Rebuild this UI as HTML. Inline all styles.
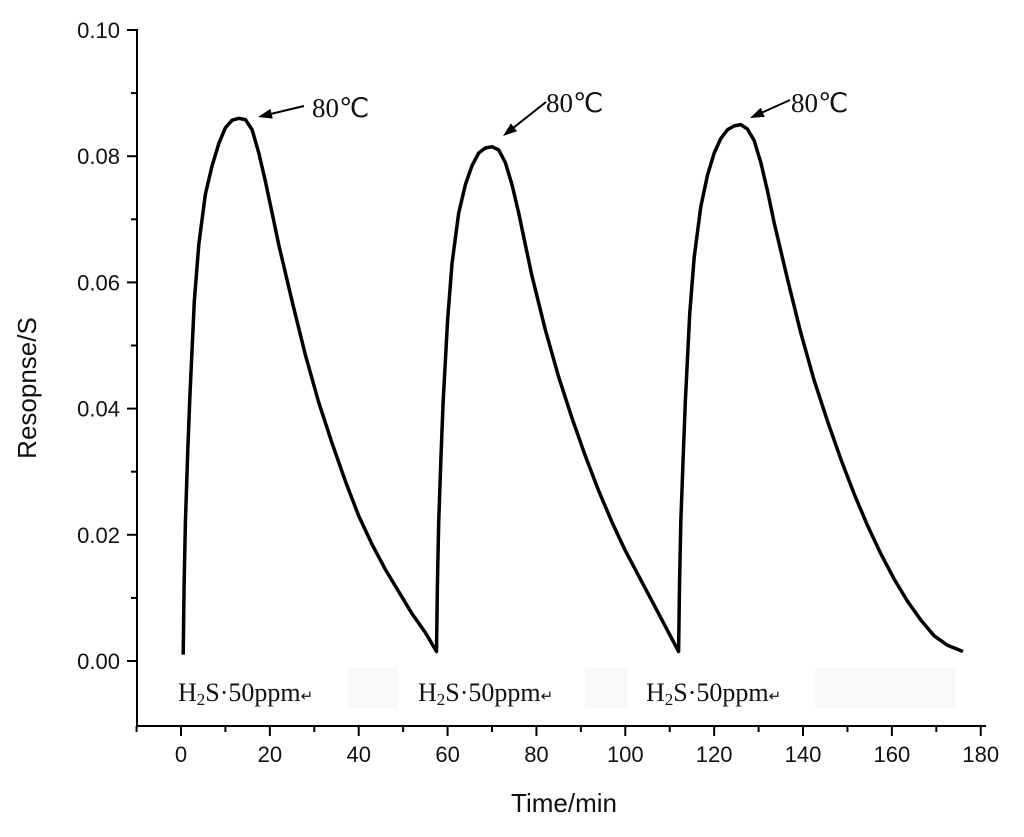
<!DOCTYPE html>
<html><head><meta charset="utf-8"><style>
body{margin:0;background:#fff}
svg{display:block}
.t{font-family:"Liberation Sans",sans-serif;font-size:22px;fill:#111}
.s{font-family:"Liberation Serif",serif;fill:#111}
</style></head><body>
<svg id="c" width="1024" height="837">
<rect x="348" y="668" width="50" height="40" fill="#f8f8f8"/>
<rect x="585" y="668" width="42" height="40" fill="#f8f8f8"/>
<rect x="815" y="668" width="140" height="40" fill="#f8f8f8"/>
<g id="axes"></g>
<path id="curve" fill="none" stroke="#000" stroke-width="3.5" stroke-linejoin="round"/>
<text class="t" x="36" y="388" text-anchor="middle" transform="rotate(-90 36 388)" style="font-size:26px">Resopnse/S</text>
<text class="t" x="564" y="812" text-anchor="middle" style="font-size:26px">Time/min</text>
<g id="ann"></g>
</svg>
<script>
const xTicks=[0,20,40,60,80,100,120,140,160,180];
const yTicks=[0,0.02,0.04,0.06,0.08,0.10];
const yTickLabels=["0.00","0.02","0.04","0.06","0.08","0.10"];
const cycle1T=[0.5,0.7,1,1.5,2,3,4,5.5,7,8.5,10,11.5,13,14.5,16,17.5,19,20.5,22,25,28,31,34,37,40,43,46,49,52,55,57.5];
const cycle1V=[0.001,0.012,0.022,0.033,0.042,0.057,0.066,0.074,0.0785,0.082,0.0845,0.0857,0.086,0.0858,0.0842,0.0805,0.076,0.071,0.066,0.057,0.0485,0.041,0.0345,0.0285,0.023,0.0185,0.0145,0.011,0.0075,0.0045,0.0015];
const cycle2T=[57.5,57.7,58,58.5,59,60,61,62.5,64,65.5,67,68.5,70,71.5,73,74.5,76,77.5,79,82,85,88,91,94,97,100,103,106,109,112];
const cycle2V=[0.0015,0.012,0.022,0.032,0.041,0.054,0.063,0.071,0.0755,0.0785,0.0805,0.0813,0.0815,0.081,0.079,0.0755,0.071,0.066,0.061,0.0525,0.045,0.0385,0.0325,0.027,0.022,0.0175,0.0135,0.0095,0.0055,0.0015];
const cycle3T=[112,112.2,112.5,113,113.5,114.5,115.5,117,118.5,120,121.5,123,124.5,126,127.5,129,130.5,132,133.5,136.5,139.5,142.5,145.5,148.5,151.5,154.5,157.5,160.5,163.5,166.5,169.5,172.5,176];
const cycle3V=[0.0015,0.012,0.022,0.032,0.041,0.055,0.064,0.072,0.077,0.0805,0.0828,0.0842,0.0848,0.085,0.0843,0.0825,0.079,0.0745,0.0695,0.0605,0.052,0.0445,0.038,0.032,0.0265,0.0215,0.017,0.013,0.0095,0.0065,0.004,0.0025,0.0015];
const X=t=>181+t*4.443, Y=v=>661-v*6310;
const ns="http://www.w3.org/2000/svg";
const ax=document.getElementById('axes');
function el(tag,attrs,parent){const e=document.createElementNS(ns,tag);for(const k in attrs)e.setAttribute(k,attrs[k]);(parent||ax).appendChild(e);return e;}
let l=el('line',{x1:137,y1:29,x2:137,y2:727,stroke:'#000','stroke-width':2});


l=el('line',{x1:136,y1:726,x2:986,y2:726,stroke:'#000','stroke-width':2});


for(let v=0;v<=0.1001;v+=0.01){const maj=Math.round(v*100)%2===0;el('line',{x1:maj?127:131,x2:137,y1:Y(v),y2:Y(v),stroke:'#000','stroke-width':2});}
yTicks.forEach((v,i)=>{const t=el('text',{x:120,y:Y(v)+8,'text-anchor':'end',class:'t'});t.textContent=yTickLabels[i];

});
for(let t=-10;t<=180;t+=10){const maj=t%20===0;el('line',{x1:X(t),x2:X(t),y1:726,y2:maj?736:732,stroke:'#000','stroke-width':2});}
xTicks.forEach(v=>{const t=el('text',{x:X(v),y:762,'text-anchor':'middle',class:'t'});t.textContent=v;

});
let d='';
[[cycle1T,cycle1V],[cycle2T,cycle2V],[cycle3T,cycle3V]].forEach(([ts,vs])=>{ts.forEach((t,i)=>{d+=(d===''?'M':'L')+X(t).toFixed(1)+','+Y(vs[i]).toFixed(1);});});
document.getElementById('curve').setAttribute('d',d);
const ann=document.getElementById('ann');
const anns=[[312,117,304,106,258,117],[546,112,546,102,503,136],[791,112,790,100,750,118]];
anns.forEach(a=>{const t=el('text',{x:a[0],y:a[1],class:'s','font-size':27},ann);t.textContent='80℃';


const ang=Math.atan2(a[5]-a[3],a[4]-a[2]);const L=14,w=5;
el('line',{x1:a[2],y1:a[3],x2:a[4]-Math.cos(ang)*L,y2:a[5]-Math.sin(ang)*L,stroke:'#000','stroke-width':2},ann);
const bx=a[4]-Math.cos(ang)*L,by=a[5]-Math.sin(ang)*L;
el('polygon',{points:`${a[4]},${a[5]} ${bx-Math.sin(ang)*w},${by+Math.cos(ang)*w} ${bx+Math.sin(ang)*w},${by-Math.cos(ang)*w}`,fill:'#000'},ann);});
[178,418,646].forEach(x=>{const t=el('text',{x:x,y:701,class:'s','font-size':26},ann);
t.innerHTML='H<tspan font-size="17" dy="4">2</tspan><tspan dy="-4">S·50ppm</tspan><tspan font-size="15">↵</tspan>';

});
</script>
</body></html>
